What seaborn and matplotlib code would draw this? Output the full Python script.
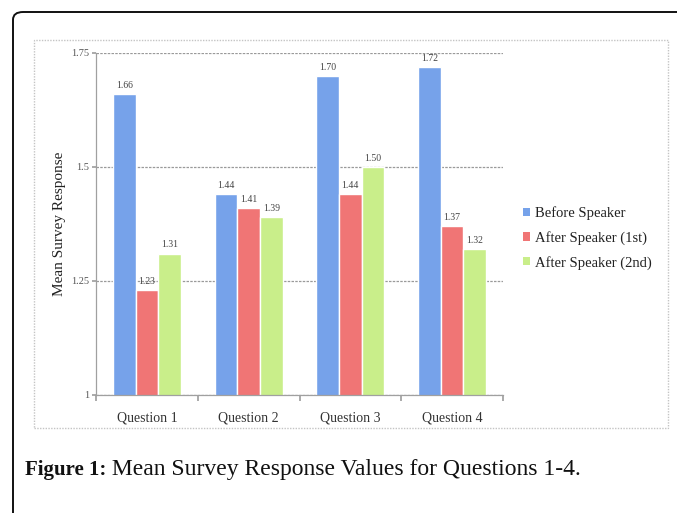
import matplotlib
matplotlib.use("Agg")
import matplotlib.pyplot as plt
from matplotlib.patches import Rectangle, FancyBboxPatch, Patch
import seaborn as sns
import pandas as pd

questions = ["Question 1", "Question 2", "Question 3", "Question 4"]
series = ["Before Speaker", "After Speaker (1st)", "After Speaker (2nd)"]
before = [1.66, 1.44, 1.70, 1.72]
after_1st = [1.23, 1.41, 1.44, 1.37]
after_2nd = [1.31, 1.39, 1.50, 1.32]
y_ticks = [1.0, 1.25, 1.5, 1.75]
y_tick_labels = ["1", "1.25", "1.5", "1.75"]
colors = ["#76a2ea", "#f07575", "#c9ee8a"]

df = pd.DataFrame({
    "question": questions * 3,
    "series": [series[0]] * 4 + [series[1]] * 4 + [series[2]] * 4,
    "value": before + after_1st + after_2nd,
})

sns.set_theme(style="white")
plt.rcParams["font.family"] = ["Liberation Serif", "DejaVu Serif"]

W, H = 677, 513
fig = plt.figure(figsize=(W / 100, H / 100), dpi=100)

def fx(px):
    return px / W

def fy(py):
    return 1 - py / H

# outer frame (rounded top-left corner, open to the right and bottom)
frame = FancyBboxPatch((fx(13), fy(530)), fx(700), fy(12) - fy(530),
                       boxstyle="round,pad=0,rounding_size=0.015",
                       transform=fig.transFigure, fill=False,
                       edgecolor="#111111", linewidth=1.4, clip_on=False)
fig.add_artist(frame)

# chart border
fig.add_artist(Rectangle((fx(34), fy(428)), fx(668) - fx(34), fy(40) - fy(428),
                         transform=fig.transFigure, fill=False,
                         edgecolor="#c4c4c4", linewidth=1.0, linestyle=(0, (1, 1))))

ax = fig.add_axes([fx(96), fy(395), fx(503) - fx(96), fy(53) - fy(395)])
sns.barplot(data=df, x="question", y="value", hue="series", palette=colors,
            width=0.67, gap=0, ax=ax, legend=False, saturation=1)

ax.set_ylim(1.0, 1.75)
ax.set_yticks(y_ticks)
ax.set_yticklabels(y_tick_labels)
ax.set_xlim(-0.5, 3.5)
ax.yaxis.grid(True, color="#9a9a9a", linewidth=0.9, linestyle=(0, (2, 1)))
ax.set_axisbelow(True)
for side in ["top", "right"]:
    ax.spines[side].set_visible(False)
for side in ["left", "bottom"]:
    ax.spines[side].set_color("#a0a0a0")
    ax.spines[side].set_linewidth(0.9)

ax.tick_params(axis="y", labelsize=7.5, labelcolor="#555555", length=3,
               color="#a0a0a0", left=True, direction="out", pad=2)
ax.set_xticks([-0.5, 0.5, 1.5, 2.5, 3.5], minor=False)
ax.set_xticklabels([])
ax.set_xticks([0, 1, 2, 3], minor=True)
ax.set_xticklabels(questions, minor=True)
ax.tick_params(axis="x", which="major", length=4, color="#a0a0a0", bottom=True)
ax.tick_params(axis="x", which="minor", length=0, labelsize=10,
               labelcolor="#333333", pad=12)
ax.set_xlabel("")
ax.set_ylabel("Mean Survey Response", fontsize=11, color="#222222")
ax.yaxis.set_label_coords(-30 / 407, 0.5)

for container in ax.containers:
    ax.bar_label(container, labels=[f"{v:.2f}" for v in container.datavalues],
                 fontsize=7, color="#444444", padding=3)

handles = [Patch(facecolor=c, edgecolor="none") for c in colors]
fig.legend(handles, series, loc="upper left",
           bbox_to_anchor=(fx(510), fy(193)), frameon=False,
           fontsize=10.5, handlelength=0.5, handleheight=0.5,
           handletextpad=0.3, labelspacing=0.75, labelcolor="#222222")

t1 = fig.text(fx(25), fy(475), "Figure 1:", fontsize=15, fontweight="bold",
              color="#111111", ha="left", va="baseline")
ax.annotate(" Mean Survey Response Values for Questions 1-4.",
            xy=(1, 0), xycoords=t1, xytext=(0, 0), textcoords="offset points",
            fontsize=17, color="#111111", ha="left", va="bottom",
            annotation_clip=False)

fig.savefig("out.png", dpi=100)
